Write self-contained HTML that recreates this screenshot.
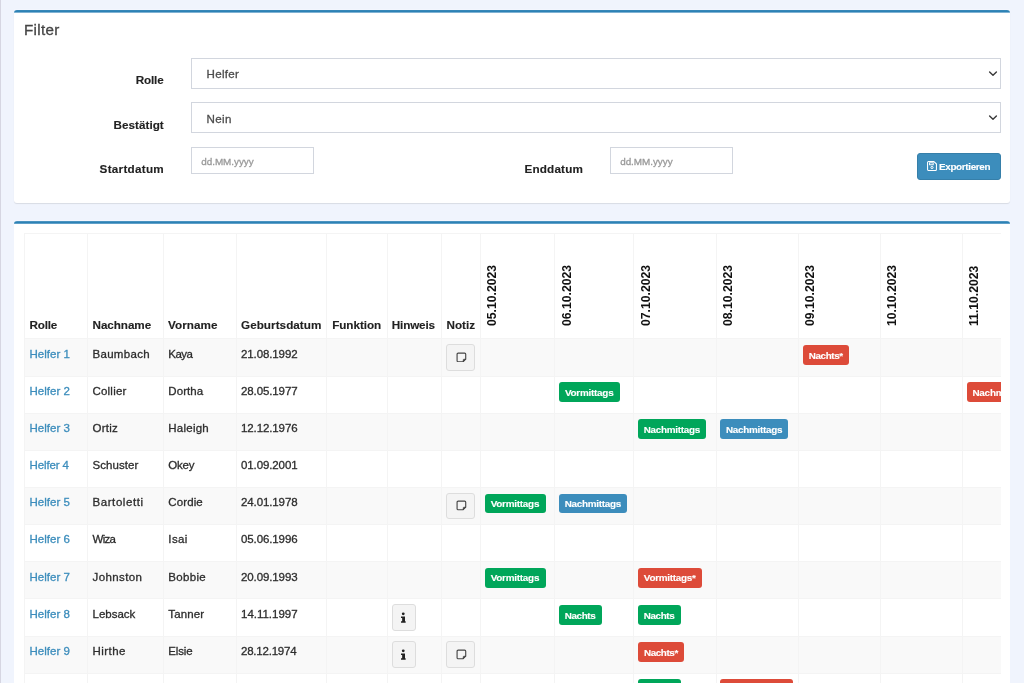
<!DOCTYPE html>
<html lang="de">
<head>
<meta charset="utf-8">
<title>Helfer Export</title>
<style>
html,body{margin:0;padding:0;}
body{width:1024px;height:683px;overflow:hidden;position:relative;background:#f0f4fd;
 font-family:"Liberation Sans", sans-serif;color:#2d2d2d;}
.page{position:absolute;left:0;top:0;width:1024px;height:683px;transform:translateZ(0);will-change:transform;}
.a{position:absolute;display:block;}
.t{position:absolute;white-space:nowrap;display:block;-webkit-text-stroke:0.3px currentColor;}
.clip{overflow:hidden;}
.vt{transform:rotate(-90deg);transform-origin:0 0;white-space:nowrap;
 font-weight:bold;font-size:12.2px;line-height:14px;color:#111;letter-spacing:0px;}
</style>
</head>
<body>
<main class="page">
<div class="a" style="left:0.00px;top:0.00px;width:1.30px;height:683.00px;background:#d6d6e2;"></div>
<section>
<div class="a" style="left:14.00px;top:10.00px;width:996.00px;height:193.00px;background:#fff;border-radius:3px;box-shadow:0 1px 1px rgba(0,0,0,.1);"><div class="a" style="left:0;right:0;top:-1px;height:1px;background:#f3f6fe;"></div><div class="a" style="left:0;right:0;top:0;height:3px;border-radius:3px 3px 0 0;background:linear-gradient(#3687b8 0,#3687b8 1px,#2c82b5 1px,#2c82b5 2px,#7fb2d3 2px,#7fb2d3 3px);"></div></div>
<span id="t1" class="t" style="top:20.51px;font-size:15.20px;line-height:18.24px;left:24.00px;color:#444;letter-spacing:0.322px;">Filter</span>
<span id="t2" class="t" style="top:72.68px;font-size:11.70px;line-height:14.04px;right:860.44px;font-weight:bold;-webkit-text-stroke-width:0.12px;color:#222222;letter-spacing:-0.143px;">Rolle</span>
<span id="t3" class="t" style="top:117.68px;font-size:11.70px;line-height:14.04px;right:860.29px;font-weight:bold;-webkit-text-stroke-width:0.12px;color:#222222;letter-spacing:0.011px;">Bestätigt</span>
<span id="t4" class="t" style="top:161.53px;font-size:11.70px;line-height:14.04px;right:860.03px;font-weight:bold;-webkit-text-stroke-width:0.12px;color:#222222;letter-spacing:0.267px;">Startdatum</span>
<span id="t5" class="t" style="top:161.93px;font-size:11.70px;line-height:14.04px;left:524.50px;font-weight:bold;-webkit-text-stroke-width:0.12px;color:#222222;letter-spacing:0.179px;">Enddatum</span>
<div class="a" style="left:191.00px;top:58.00px;width:810.00px;height:30.60px;background:#fff;border:1px solid #d2d6de;box-sizing:border-box;"></div>
<span id="t6" class="t" style="top:67.02px;font-size:11.60px;line-height:13.92px;left:206.50px;color:#4c4c4c;letter-spacing:0.287px;">Helfer</span>
<svg class="a" style="left:987.80px;top:69.90px" width="10" height="8" viewBox="0 0 10 8"><path d="M1.6 1.9 L5 5.2 L8.4 1.9" fill="none" stroke="#3a3a3a" stroke-width="1.4" stroke-linecap="round" stroke-linejoin="round"/></svg>
<div class="a" style="left:191.00px;top:102.40px;width:810.00px;height:30.20px;background:#fff;border:1px solid #d2d6de;box-sizing:border-box;"></div>
<span id="t7" class="t" style="top:111.52px;font-size:11.60px;line-height:13.92px;left:206.50px;color:#4c4c4c;letter-spacing:0.368px;">Nein</span>
<svg class="a" style="left:987.80px;top:114.30px" width="10" height="8" viewBox="0 0 10 8"><path d="M1.6 1.9 L5 5.2 L8.4 1.9" fill="none" stroke="#3a3a3a" stroke-width="1.4" stroke-linecap="round" stroke-linejoin="round"/></svg>
<div class="a" style="left:191.00px;top:147.00px;width:123.20px;height:26.60px;background:#fff;border:1px solid #d2d6de;box-sizing:border-box;"></div>
<span id="t8" class="t" style="top:155.63px;font-size:9.90px;line-height:11.88px;left:201.25px;color:#999999;letter-spacing:-0.026px;">dd.MM.yyyy</span>
<div class="a" style="left:610.00px;top:147.00px;width:123.20px;height:26.60px;background:#fff;border:1px solid #d2d6de;box-sizing:border-box;"></div>
<span id="t9" class="t" style="top:155.63px;font-size:9.90px;line-height:11.88px;left:620.20px;color:#999999;letter-spacing:-0.026px;">dd.MM.yyyy</span>
<div class="a" style="left:917.20px;top:153.00px;width:83.80px;height:26.60px;background:#3c8dbc;border:1px solid #367fa9;border-radius:3px;box-sizing:border-box;"></div>
<svg class="a" style="left:926.80px;top:161.20px" width="10.00" height="10.00" viewBox="0 0 18 18"><path d="M2.6 1h9.9l4.5 4.4v10.1a1.6 1.6 0 0 1-1.6 1.6H2.6A1.6 1.6 0 0 1 1 15.500V2.6A1.6 1.6 0 0 1 2.6 1z" fill="none" stroke="#fff" stroke-width="1.9" stroke-linejoin="round"/><rect x="4.6" y="3.2" width="6.6" height="3.6" fill="none" stroke="#fff" stroke-width="1.7"/><circle cx="9" cy="11.7" r="2" fill="none" stroke="#fff" stroke-width="1.7"/></svg>
<span id="t10" class="t" style="top:161.13px;font-size:9.90px;line-height:11.88px;left:939.00px;font-weight:bold;-webkit-text-stroke-width:0.12px;color:#fff;letter-spacing:-0.334px;">Exportieren</span>
</section>
<section>
<div class="a" style="left:14.00px;top:221.00px;width:996.00px;height:479.00px;background:#fff;border-radius:3px 3px 0 0;"><div class="a" style="left:0;right:0;top:-1px;height:1px;background:#f3f6fe;"></div><div class="a" style="left:0;right:0;top:0;height:3px;border-radius:3px 3px 0 0;background:linear-gradient(#4a93c0 0,#4a93c0 1px,#2c82b5 1px,#2c82b5 2px,#5f9fc8 2px,#5f9fc8 3px);"></div></div>
<div class="a clip" style="left:24.00px;top:233.00px;width:977.00px;height:467.00px;"><div class="a" style="left:0.00px;top:106.00px;width:1020.00px;height:37.14px;background:#f9f9f9;"></div>
<div class="a" style="left:0.00px;top:180.28px;width:1020.00px;height:37.14px;background:#f9f9f9;"></div>
<div class="a" style="left:0.00px;top:254.56px;width:1020.00px;height:37.14px;background:#f9f9f9;"></div>
<div class="a" style="left:0.00px;top:328.84px;width:1020.00px;height:37.14px;background:#f9f9f9;"></div>
<div class="a" style="left:0.00px;top:403.12px;width:1020.00px;height:37.14px;background:#f9f9f9;"></div>
<div class="a" style="left:0.00px;top:0.00px;width:1020.00px;height:1.00px;background:#f4f4f4;"></div>
<div class="a" style="left:0.00px;top:104.60px;width:1020.00px;height:1.80px;background:#f4f4f4;"></div>
<div class="a" style="left:0.00px;top:142.64px;width:1020.00px;height:1.00px;background:#f4f4f4;"></div>
<div class="a" style="left:0.00px;top:179.78px;width:1020.00px;height:1.00px;background:#f4f4f4;"></div>
<div class="a" style="left:0.00px;top:216.92px;width:1020.00px;height:1.00px;background:#f4f4f4;"></div>
<div class="a" style="left:0.00px;top:254.06px;width:1020.00px;height:1.00px;background:#f4f4f4;"></div>
<div class="a" style="left:0.00px;top:291.20px;width:1020.00px;height:1.00px;background:#f4f4f4;"></div>
<div class="a" style="left:0.00px;top:328.34px;width:1020.00px;height:1.00px;background:#f4f4f4;"></div>
<div class="a" style="left:0.00px;top:365.48px;width:1020.00px;height:1.00px;background:#f4f4f4;"></div>
<div class="a" style="left:0.00px;top:402.62px;width:1020.00px;height:1.00px;background:#f4f4f4;"></div>
<div class="a" style="left:0.00px;top:439.76px;width:1020.00px;height:1.00px;background:#f4f4f4;"></div>
<div class="a" style="left:0.00px;top:476.90px;width:1020.00px;height:1.00px;background:#f4f4f4;"></div>
<div class="a" style="left:0.00px;top:0.00px;width:1.00px;height:467.00px;background:#f4f4f4;"></div>
<div class="a" style="left:63.00px;top:0.00px;width:1.00px;height:467.00px;background:#f4f4f4;"></div>
<div class="a" style="left:139.25px;top:0.00px;width:1.00px;height:467.00px;background:#f4f4f4;"></div>
<div class="a" style="left:211.50px;top:0.00px;width:1.00px;height:467.00px;background:#f4f4f4;"></div>
<div class="a" style="left:302.00px;top:0.00px;width:1.00px;height:467.00px;background:#f4f4f4;"></div>
<div class="a" style="left:362.75px;top:0.00px;width:1.00px;height:467.00px;background:#f4f4f4;"></div>
<div class="a" style="left:417.00px;top:0.00px;width:1.00px;height:467.00px;background:#f4f4f4;"></div>
<div class="a" style="left:456.00px;top:0.00px;width:1.00px;height:467.00px;background:#f4f4f4;"></div>
<div class="a" style="left:530.25px;top:0.00px;width:1.00px;height:467.00px;background:#f4f4f4;"></div>
<div class="a" style="left:609.25px;top:0.00px;width:1.00px;height:467.00px;background:#f4f4f4;"></div>
<div class="a" style="left:691.50px;top:0.00px;width:1.00px;height:467.00px;background:#f4f4f4;"></div>
<div class="a" style="left:774.10px;top:0.00px;width:1.00px;height:467.00px;background:#f4f4f4;"></div>
<div class="a" style="left:855.50px;top:0.00px;width:1.00px;height:467.00px;background:#f4f4f4;"></div>
<div class="a" style="left:937.90px;top:0.00px;width:1.00px;height:467.00px;background:#f4f4f4;"></div>
<div class="a" style="left:1020.00px;top:0.00px;width:1.00px;height:467.00px;background:#f4f4f4;"></div>
<span id="t11" class="t" style="top:84.73px;font-size:11.70px;line-height:14.04px;left:5.50px;font-weight:bold;-webkit-text-stroke-width:0.12px;color:#222;letter-spacing:-0.193px;">Rolle</span>
<span id="t12" class="t" style="top:84.73px;font-size:11.70px;line-height:14.04px;left:68.50px;font-weight:bold;-webkit-text-stroke-width:0.12px;color:#222;letter-spacing:-0.059px;">Nachname</span>
<span id="t13" class="t" style="top:84.73px;font-size:11.70px;line-height:14.04px;left:144.00px;font-weight:bold;-webkit-text-stroke-width:0.12px;color:#222;letter-spacing:0.059px;">Vorname</span>
<span id="t14" class="t" style="top:84.73px;font-size:11.70px;line-height:14.04px;left:217.00px;font-weight:bold;-webkit-text-stroke-width:0.12px;color:#222;letter-spacing:0.047px;">Geburtsdatum</span>
<span id="t15" class="t" style="top:84.73px;font-size:11.70px;line-height:14.04px;left:308.20px;font-weight:bold;-webkit-text-stroke-width:0.12px;color:#222;letter-spacing:-0.057px;">Funktion</span>
<span id="t16" class="t" style="top:84.73px;font-size:11.70px;line-height:14.04px;left:367.80px;font-weight:bold;-webkit-text-stroke-width:0.12px;color:#222;letter-spacing:-0.161px;">Hinweis</span>
<span id="t17" class="t" style="top:84.73px;font-size:11.70px;line-height:14.04px;left:422.50px;font-weight:bold;-webkit-text-stroke-width:0.12px;color:#222;letter-spacing:0.020px;">Notiz</span>
<span class="a vt" style="left:461.27px;top:93.00px;">05.10.2023</span>
<span class="a vt" style="left:535.52px;top:93.00px;">06.10.2023</span>
<span class="a vt" style="left:614.52px;top:93.00px;">07.10.2023</span>
<span class="a vt" style="left:696.77px;top:93.00px;">08.10.2023</span>
<span class="a vt" style="left:779.37px;top:93.00px;">09.10.2023</span>
<span class="a vt" style="left:860.77px;top:93.00px;">10.10.2023</span>
<span class="a vt" style="left:943.17px;top:93.00px;">11.10.2023</span>
<span class="a vt" style="left:1025.27px;top:93.00px;">12.10.2023</span>
<span id="t18" class="t" style="top:114.72px;font-size:11.50px;line-height:13.80px;left:5.50px;color:#3c8dbc;letter-spacing:0.018px;">Helfer 1</span>
<span id="t19" class="t" style="top:114.72px;font-size:11.50px;line-height:13.80px;left:68.50px;color:#2d2d2d;letter-spacing:0.302px;">Baumbach</span>
<span id="t20" class="t" style="top:114.72px;font-size:11.50px;line-height:13.80px;left:144.30px;color:#2d2d2d;letter-spacing:-0.539px;">Kaya</span>
<span id="t21" class="t" style="top:114.72px;font-size:11.50px;line-height:13.80px;left:217.00px;color:#2d2d2d;letter-spacing:-0.107px;">21.08.1992</span>
<span id="t22" class="t" style="top:151.86px;font-size:11.50px;line-height:13.80px;left:5.50px;color:#3c8dbc;letter-spacing:0.018px;">Helfer 2</span>
<span id="t23" class="t" style="top:151.86px;font-size:11.50px;line-height:13.80px;left:68.50px;color:#2d2d2d;letter-spacing:0.206px;">Collier</span>
<span id="t24" class="t" style="top:151.86px;font-size:11.50px;line-height:13.80px;left:144.30px;color:#2d2d2d;letter-spacing:0.076px;">Dortha</span>
<span id="t25" class="t" style="top:151.86px;font-size:11.50px;line-height:13.80px;left:217.00px;color:#2d2d2d;letter-spacing:-0.107px;">28.05.1977</span>
<span id="t26" class="t" style="top:189.00px;font-size:11.50px;line-height:13.80px;left:5.50px;color:#3c8dbc;letter-spacing:0.018px;">Helfer 3</span>
<span id="t27" class="t" style="top:189.00px;font-size:11.50px;line-height:13.80px;left:68.50px;color:#2d2d2d;letter-spacing:0.244px;">Ortiz</span>
<span id="t28" class="t" style="top:189.00px;font-size:11.50px;line-height:13.80px;left:144.30px;color:#2d2d2d;letter-spacing:0.233px;">Haleigh</span>
<span id="t29" class="t" style="top:189.00px;font-size:11.50px;line-height:13.80px;left:217.00px;color:#2d2d2d;letter-spacing:-0.107px;">12.12.1976</span>
<span id="t30" class="t" style="top:226.14px;font-size:11.50px;line-height:13.80px;left:5.50px;color:#3c8dbc;letter-spacing:-0.124px;">Helfer 4</span>
<span id="t31" class="t" style="top:226.14px;font-size:11.50px;line-height:13.80px;left:68.50px;color:#2d2d2d;letter-spacing:0.064px;">Schuster</span>
<span id="t32" class="t" style="top:226.14px;font-size:11.50px;line-height:13.80px;left:144.30px;color:#2d2d2d;letter-spacing:-0.197px;">Okey</span>
<span id="t33" class="t" style="top:226.14px;font-size:11.50px;line-height:13.80px;left:217.00px;color:#2d2d2d;letter-spacing:-0.107px;">01.09.2001</span>
<span id="t34" class="t" style="top:263.28px;font-size:11.50px;line-height:13.80px;left:5.50px;color:#3c8dbc;letter-spacing:0.018px;">Helfer 5</span>
<span id="t35" class="t" style="top:263.28px;font-size:11.50px;line-height:13.80px;left:68.50px;color:#2d2d2d;letter-spacing:0.575px;">Bartoletti</span>
<span id="t36" class="t" style="top:263.28px;font-size:11.50px;line-height:13.80px;left:144.30px;color:#2d2d2d;letter-spacing:0.104px;">Cordie</span>
<span id="t37" class="t" style="top:263.28px;font-size:11.50px;line-height:13.80px;left:217.00px;color:#2d2d2d;letter-spacing:-0.107px;">24.01.1978</span>
<span id="t38" class="t" style="top:300.42px;font-size:11.50px;line-height:13.80px;left:5.50px;color:#3c8dbc;letter-spacing:0.018px;">Helfer 6</span>
<span id="t39" class="t" style="top:300.42px;font-size:11.50px;line-height:13.80px;left:68.50px;color:#2d2d2d;letter-spacing:-0.720px;">Wiza</span>
<span id="t40" class="t" style="top:300.42px;font-size:11.50px;line-height:13.80px;left:144.30px;color:#2d2d2d;letter-spacing:0.386px;">Isai</span>
<span id="t41" class="t" style="top:300.42px;font-size:11.50px;line-height:13.80px;left:217.00px;color:#2d2d2d;letter-spacing:-0.107px;">05.06.1996</span>
<span id="t42" class="t" style="top:337.56px;font-size:11.50px;line-height:13.80px;left:5.50px;color:#3c8dbc;letter-spacing:0.018px;">Helfer 7</span>
<span id="t43" class="t" style="top:337.56px;font-size:11.50px;line-height:13.80px;left:68.50px;color:#2d2d2d;letter-spacing:0.389px;">Johnston</span>
<span id="t44" class="t" style="top:337.56px;font-size:11.50px;line-height:13.80px;left:144.30px;color:#2d2d2d;letter-spacing:0.317px;">Bobbie</span>
<span id="t45" class="t" style="top:337.56px;font-size:11.50px;line-height:13.80px;left:217.00px;color:#2d2d2d;letter-spacing:-0.107px;">20.09.1993</span>
<span id="t46" class="t" style="top:374.70px;font-size:11.50px;line-height:13.80px;left:5.50px;color:#3c8dbc;letter-spacing:0.018px;">Helfer 8</span>
<span id="t47" class="t" style="top:374.70px;font-size:11.50px;line-height:13.80px;left:68.50px;color:#2d2d2d;letter-spacing:-0.014px;">Lebsack</span>
<span id="t48" class="t" style="top:374.70px;font-size:11.50px;line-height:13.80px;left:144.30px;color:#2d2d2d;letter-spacing:0.133px;">Tanner</span>
<span id="t49" class="t" style="top:374.70px;font-size:11.50px;line-height:13.80px;left:217.00px;color:#2d2d2d;letter-spacing:-0.012px;">14.11.1997</span>
<span id="t50" class="t" style="top:411.84px;font-size:11.50px;line-height:13.80px;left:5.50px;color:#3c8dbc;letter-spacing:0.018px;">Helfer 9</span>
<span id="t51" class="t" style="top:411.84px;font-size:11.50px;line-height:13.80px;left:68.50px;color:#2d2d2d;letter-spacing:0.444px;">Hirthe</span>
<span id="t52" class="t" style="top:411.84px;font-size:11.50px;line-height:13.80px;left:144.30px;color:#2d2d2d;letter-spacing:-0.133px;">Elsie</span>
<span id="t53" class="t" style="top:411.84px;font-size:11.50px;line-height:13.80px;left:217.00px;color:#2d2d2d;letter-spacing:-0.218px;">28.12.1974</span>
<span id="t54" class="t" style="top:448.98px;font-size:11.50px;line-height:13.80px;left:5.50px;color:#3c8dbc;letter-spacing:0.029px;">Helfer 10</span>
<span id="t55" class="t" style="top:448.98px;font-size:11.50px;line-height:13.80px;left:68.50px;color:#2d2d2d;letter-spacing:0.001px;">Kuhlman</span>
<span id="t56" class="t" style="top:448.98px;font-size:11.50px;line-height:13.80px;left:144.30px;color:#2d2d2d;letter-spacing:0.309px;">Lilian</span>
<span id="t57" class="t" style="top:448.98px;font-size:11.50px;line-height:13.80px;left:217.00px;color:#2d2d2d;letter-spacing:-0.107px;">03.03.1985</span>
<div class="a" style="left:422.00px;top:111.00px;width:28.80px;height:26.70px;background:#f4f4f4;border:1px solid #dddddd;border-radius:3px;box-sizing:border-box;"><svg class="a" style="left:8.80px;top:6.60px" width="10.80" height="10.80" viewBox="0 0 22 22"><path d="M4.4 2.200h13.200a2.200 2.200 0 0 1 2.200 2.200v10.200l-5.200 5.200H4.400a2.200 2.200 0 0 1-2.200-2.200V4.400a2.200 2.200 0 0 1 2.200-2.200z" fill="none" stroke="#444444" stroke-width="2.3" stroke-linejoin="round"/><path d="M19.800 14.600h-3.500a1.700 1.700 0 0 0-1.700 1.700v3.500z" fill="#444444" stroke="#444444" stroke-width="1.200" stroke-linejoin="round"/></svg></div>
<div class="a" style="left:422.00px;top:259.56px;width:28.80px;height:26.70px;background:#f4f4f4;border:1px solid #dddddd;border-radius:3px;box-sizing:border-box;"><svg class="a" style="left:8.80px;top:6.60px" width="10.80" height="10.80" viewBox="0 0 22 22"><path d="M4.4 2.200h13.200a2.200 2.200 0 0 1 2.200 2.200v10.200l-5.200 5.200H4.400a2.200 2.200 0 0 1-2.200-2.200V4.400a2.200 2.200 0 0 1 2.200-2.200z" fill="none" stroke="#444444" stroke-width="2.3" stroke-linejoin="round"/><path d="M19.800 14.600h-3.500a1.700 1.700 0 0 0-1.700 1.700v3.500z" fill="#444444" stroke="#444444" stroke-width="1.200" stroke-linejoin="round"/></svg></div>
<div class="a" style="left:422.00px;top:408.12px;width:28.80px;height:26.70px;background:#f4f4f4;border:1px solid #dddddd;border-radius:3px;box-sizing:border-box;"><svg class="a" style="left:8.80px;top:6.60px" width="10.80" height="10.80" viewBox="0 0 22 22"><path d="M4.4 2.200h13.200a2.200 2.200 0 0 1 2.200 2.200v10.200l-5.200 5.200H4.400a2.200 2.200 0 0 1-2.200-2.200V4.400a2.200 2.200 0 0 1 2.200-2.200z" fill="none" stroke="#444444" stroke-width="2.3" stroke-linejoin="round"/><path d="M19.800 14.600h-3.500a1.700 1.700 0 0 0-1.700 1.700v3.500z" fill="#444444" stroke="#444444" stroke-width="1.200" stroke-linejoin="round"/></svg></div>
<div class="a" style="left:368.00px;top:370.98px;width:23.60px;height:26.70px;background:#f4f4f4;border:1px solid #dddddd;border-radius:3px;box-sizing:border-box;"><svg class="a" style="left:8.30px;top:7.10px" width="4.70" height="10.70" viewBox="0 0 9.800 22.500"><circle cx="4.700" cy="3.800" r="3.000" fill="#222"/><path d="M0 9.400H8.400V19.400H9.800V22.500H0V19.400H2.400V12.500H0Z" fill="#222"/></svg></div>
<div class="a" style="left:368.00px;top:408.12px;width:23.60px;height:26.70px;background:#f4f4f4;border:1px solid #dddddd;border-radius:3px;box-sizing:border-box;"><svg class="a" style="left:8.30px;top:7.10px" width="4.70" height="10.70" viewBox="0 0 9.800 22.500"><circle cx="4.700" cy="3.800" r="3.000" fill="#222"/><path d="M0 9.400H8.400V19.400H9.800V22.500H0V19.400H2.400V12.500H0Z" fill="#222"/></svg></div>
<div class="a" style="left:779.00px;top:112.10px;width:46.10px;height:19.70px;background:#dd4b39;border-radius:3px;"></div><span id="t58" class="t" style="top:116.63px;font-size:9.90px;line-height:11.88px;left:784.80px;font-weight:bold;-webkit-text-stroke-width:0.12px;color:#fff;letter-spacing:-0.405px;">Nachts*</span>
<div class="a" style="left:535.15px;top:149.24px;width:60.75px;height:19.70px;background:#00a65a;border-radius:3px;"></div><span id="t59" class="t" style="top:153.77px;font-size:9.90px;line-height:11.88px;left:540.90px;font-weight:bold;-webkit-text-stroke-width:0.12px;color:#fff;letter-spacing:-0.234px;">Vormittags</span>
<div class="a" style="left:942.80px;top:149.24px;width:72.20px;height:19.70px;background:#dd4b39;border-radius:3px;"></div><span id="t60" class="t" style="top:153.77px;font-size:9.90px;line-height:11.88px;left:948.40px;font-weight:bold;-webkit-text-stroke-width:0.12px;color:#fff;letter-spacing:-0.206px;">Nachmittags*</span>
<div class="a" style="left:614.15px;top:186.38px;width:68.10px;height:19.70px;background:#00a65a;border-radius:3px;"></div><span id="t61" class="t" style="top:190.91px;font-size:9.90px;line-height:11.88px;left:619.70px;font-weight:bold;-webkit-text-stroke-width:0.12px;color:#fff;letter-spacing:-0.277px;">Nachmittags</span>
<div class="a" style="left:696.40px;top:186.38px;width:68.10px;height:19.70px;background:#3c8dbc;border-radius:3px;"></div><span id="t62" class="t" style="top:190.91px;font-size:9.90px;line-height:11.88px;left:701.95px;font-weight:bold;-webkit-text-stroke-width:0.12px;color:#fff;letter-spacing:-0.277px;">Nachmittags</span>
<div class="a" style="left:460.90px;top:260.66px;width:60.75px;height:19.70px;background:#00a65a;border-radius:3px;"></div><span id="t63" class="t" style="top:265.19px;font-size:9.90px;line-height:11.88px;left:466.65px;font-weight:bold;-webkit-text-stroke-width:0.12px;color:#fff;letter-spacing:-0.234px;">Vormittags</span>
<div class="a" style="left:535.15px;top:260.66px;width:68.10px;height:19.70px;background:#3c8dbc;border-radius:3px;"></div><span id="t64" class="t" style="top:265.19px;font-size:9.90px;line-height:11.88px;left:540.70px;font-weight:bold;-webkit-text-stroke-width:0.12px;color:#fff;letter-spacing:-0.277px;">Nachmittags</span>
<div class="a" style="left:460.90px;top:334.94px;width:60.75px;height:19.70px;background:#00a65a;border-radius:3px;"></div><span id="t65" class="t" style="top:339.47px;font-size:9.90px;line-height:11.88px;left:466.65px;font-weight:bold;-webkit-text-stroke-width:0.12px;color:#fff;letter-spacing:-0.234px;">Vormittags</span>
<div class="a" style="left:614.15px;top:334.94px;width:63.60px;height:19.70px;background:#dd4b39;border-radius:3px;"></div><span id="t66" class="t" style="top:339.47px;font-size:9.90px;line-height:11.88px;left:619.85px;font-weight:bold;-webkit-text-stroke-width:0.12px;color:#fff;letter-spacing:-0.264px;">Vormittags*</span>
<div class="a" style="left:535.15px;top:372.08px;width:42.60px;height:19.70px;background:#00a65a;border-radius:3px;"></div><span id="t67" class="t" style="top:376.61px;font-size:9.90px;line-height:11.88px;left:540.70px;font-weight:bold;-webkit-text-stroke-width:0.12px;color:#fff;letter-spacing:-0.387px;">Nachts</span>
<div class="a" style="left:614.15px;top:372.08px;width:42.60px;height:19.70px;background:#00a65a;border-radius:3px;"></div><span id="t68" class="t" style="top:376.61px;font-size:9.90px;line-height:11.88px;left:619.70px;font-weight:bold;-webkit-text-stroke-width:0.12px;color:#fff;letter-spacing:-0.387px;">Nachts</span>
<div class="a" style="left:614.15px;top:409.22px;width:46.10px;height:19.70px;background:#dd4b39;border-radius:3px;"></div><span id="t69" class="t" style="top:413.75px;font-size:9.90px;line-height:11.88px;left:619.95px;font-weight:bold;-webkit-text-stroke-width:0.12px;color:#fff;letter-spacing:-0.405px;">Nachts*</span>
<div class="a" style="left:614.15px;top:446.36px;width:42.60px;height:19.70px;background:#00a65a;border-radius:3px;"></div><span id="t70" class="t" style="top:450.89px;font-size:9.90px;line-height:11.88px;left:619.70px;font-weight:bold;-webkit-text-stroke-width:0.12px;color:#fff;letter-spacing:-0.387px;">Nachts</span>
<div class="a" style="left:696.40px;top:446.36px;width:72.20px;height:19.70px;background:#dd4b39;border-radius:3px;"></div><span id="t71" class="t" style="top:450.89px;font-size:9.90px;line-height:11.88px;left:702.00px;font-weight:bold;-webkit-text-stroke-width:0.12px;color:#fff;letter-spacing:-0.206px;">Nachmittags*</span></div>
</section>
</main>
</body>
</html>
